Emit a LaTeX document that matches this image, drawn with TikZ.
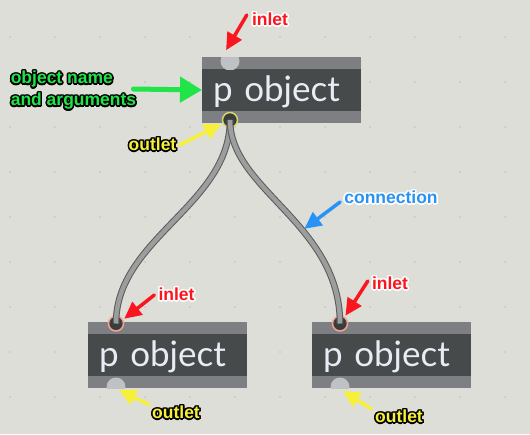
\documentclass[tikz,border=0pt]{standalone}
\usepackage{fontspec}
\setmainfont{Liberation Sans}
\newfontfamily\objfont{Lato}
\usepackage{contour}
\contourlength{1.5pt}
\usetikzlibrary{positioning, arrows.meta}

\definecolor{bgcol}{RGB}{222,222,216}
\definecolor{dotcol}{RGB}{160,160,156}
\definecolor{boxgray}{RGB}{126,127,131}
\definecolor{bandcol}{RGB}{71,74,74}
\definecolor{objtext}{RGB}{232,236,244}
\definecolor{portgray}{RGB}{192,193,196}
\definecolor{portdark}{RGB}{58,61,62}
\definecolor{ringout}{RGB}{214,214,110}
\definecolor{ringin}{RGB}{244,164,150}
\definecolor{cableout}{RGB}{88,90,90}
\definecolor{cablein}{RGB}{156,157,157}
\definecolor{annRed}{RGB}{250,22,30}
\definecolor{annGreen}{RGB}{32,228,72}
\definecolor{annYellow}{RGB}{246,240,58}
\definecolor{annBlue}{RGB}{40,146,245}

\begin{document}
\begin{tikzpicture}[
        x=1pt, y=-1pt,
        node distance=65pt,
        maxbox/.style={minimum width=159pt, minimum height=66pt, inner xsep=11pt, inner ysep=0pt, outer sep=0pt,
            text width=137pt, align=left, text height=29pt, text depth=7pt,
            fill=boxgray, text=objtext, font=\objfont\fontsize{35}{35}\selectfont,
            path picture={\fill[bandcol] ([yshift=-12pt]path picture bounding box.north west)
                rectangle ([yshift=12pt]path picture bounding box.south east);}},
        portidle/.style={circle, fill=portgray, minimum size=19pt, inner sep=0pt, outer sep=2pt},
        portact/.style={circle, fill=portdark, draw=#1, line width=1.5pt, minimum size=15pt, inner sep=0pt, outer sep=2pt},
        cable/.style={draw=cableout, line width=1pt, double=cablein, double distance=4.5pt},
        ann/.style={inner sep=1pt, font=\bfseries\fontsize{17.5}{22}\selectfont},
        annarr/.style={line width=3.5pt, line cap=round, -{Triangle[length=17pt,width=16pt]}}
        ]
        % Patcher background
        \fill[bgcol] (0,0) rectangle (530,434);
        \useasboundingbox (0,0) rectangle (530,434);
        \foreach \x in {10,55,...,505}
            \foreach \y in {37,82,...,397}
                \fill[dotcol] (\x,\y) circle (0.7pt);

        % Nodes
        \node[maxbox] (boxT) at (281.5,90) {p object};
        \node[maxbox] (boxL) at (167.5,355) {p object};
        \node[maxbox] (boxR) [right=of boxL] {p object};

        % Inlets and outlets
        \begin{scope}
            \clip (boxT.north west) rectangle ([yshift=-12pt]boxT.north east);
            \node[portidle] (inT) at ([xshift=28pt,yshift=-4pt]boxT.north west) {};
        \end{scope}
        \begin{scope}
            \clip ([yshift=12pt]boxL.south west) rectangle (boxL.south east);
            \node[portidle] (outL) at ([xshift=28pt,yshift=1pt]boxL.south west) {};
        \end{scope}
        \begin{scope}
            \clip ([yshift=12pt]boxR.south west) rectangle (boxR.south east);
            \node[portidle] (outR) at ([xshift=28pt,yshift=1pt]boxR.south west) {};
        \end{scope}
        \node[portact=ringout] (outT) at ([xshift=28pt,yshift=3pt]boxT.south west) {};
        \node[portact=ringin] (inL) at ([xshift=28pt,yshift=-1.5pt]boxL.north west) {};
        \node[portact=ringin] (inR) at ([xshift=28pt,yshift=-1.5pt]boxR.north west) {};

        % Connections
        \draw[cable] (outT.center) .. controls +(0,85) and +(0,-85) .. (inL.center);
        \draw[cable] (outT.center) .. controls +(0,70) and +(0,-100) .. (inR.center)
            coordinate[pos=0.6] (cabR);

        % Labels
        \node[ann, text=annRed] (lblInT) at (270,20) {\contour{white}{inlet}};
        \node[ann, text=annGreen, align=left] (lblName) at (73.5,91)
            {\contour{black}{object name}\\\contour{black}{and arguments}};
        \node[ann, text=annYellow] (lblOutT) at (152.5,145) {\contour{black}{outlet}};
        \node[ann, text=annBlue] (lblConn) at (391,198) {\contour{white}{connection}};
        \node[ann, text=annRed] (lblInL) at (176.5,295) {\contour{white}{inlet}};
        \node[ann, text=annRed] (lblInR) at (390,284) {\contour{white}{inlet}};
        \node[ann, text=annYellow] (lblOutL) at (176,413) {\contour{black}{outlet}};
        \node[ann, text=annYellow] (lblOutR) at (399,417) {\contour{black}{outlet}};

        % Arrows
        \draw[annarr, annRed] ([xshift=-4pt,yshift=5pt]lblInT.west) -- (inT.110);
        \draw[annarr, annGreen, line width=5pt, -{Triangle[length=22pt,width=25pt]}]
            ([xshift=-4pt,yshift=2pt]lblName.east) -- (boxT.west);
        \draw[annarr, annYellow] ([xshift=2pt]lblOutT.east) -- (outT.205);
        \draw[annarr, annBlue] ([xshift=-3pt,yshift=-4pt]lblConn.west) -- ([xshift=3pt]cabR);
        \draw[annarr, annRed] ([xshift=-3pt]lblInL.west) -- (inL.30);
        \draw[annarr, annRed] ([xshift=-3pt,yshift=3pt]lblInR.west) -- (inR.55);
        \draw[annarr, annYellow] ([xshift=-2pt]lblOutL.north west) -- ([shift={(3,3)}]outL.center);
        \draw[annarr, annYellow] ([xshift=-3pt]lblOutR.north west) -- ([shift={(3,4)}]outR.center);
    \end{tikzpicture}
\end{document}
